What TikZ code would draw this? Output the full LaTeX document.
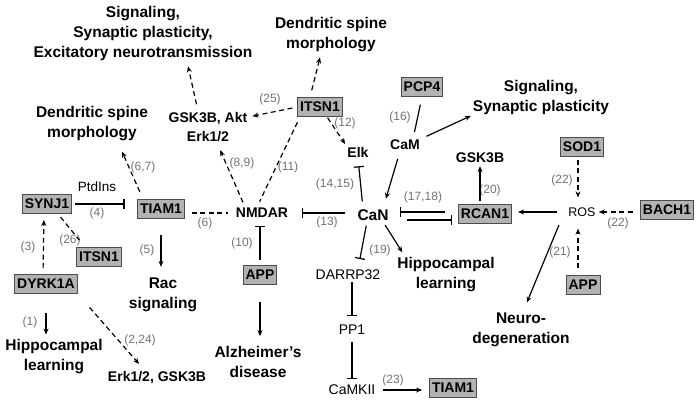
\documentclass[tikz,border=0pt]{standalone}
\usepackage{fontspec}
\setmainfont{Liberation Sans}
\usetikzlibrary{arrows.meta}
\begin{document}
\begin{tikzpicture}[x=1pt,y=-1pt,
  big/.style={font=\fontsize{15.5}{20}\selectfont\bfseries, align=center, inner sep=1pt},
  mid/.style={font=\fontsize{14}{19}\selectfont\bfseries, align=center, inner sep=1pt},
  reg/.style={font=\fontsize{14}{16}\selectfont, inner sep=1pt},
  gene/.style={draw=black!70, fill=gray!60, line width=0.8pt, font=\fontsize{14}{16}\selectfont\bfseries, inner xsep=2.5pt, inner ysep=0pt, minimum height=19pt},
  num/.style={font=\fontsize{12}{12}\selectfont, text=black!55, inner sep=0.5pt},
  con/.style={line width=1.2pt},
  act/.style={con, -{Stealth[length=6pt,width=5pt]}},
  dact/.style={act, dash pattern=on 5pt off 3.5pt},
  dline/.style={con, dash pattern=on 5pt off 3.5pt},
  inh/.style={con, -{Bar[width=10pt,line width=1.2pt]}},
]
\path[use as bounding box, fill=white] (0,0) rectangle (698,400);

% nodes
\node[big] (sig1) at (143,33) {Signaling,\\Synaptic plasticity,\\Excitatory neurotransmission};
\node[big] (dsm1) at (92,124) {Dendritic spine\\morphology};
\node[mid] (gsk) at (208,127) {GSK3B, Akt\\Erk1/2};
\node[big] (dsm2) at (331,35) {Dendritic spine\\morphology};
\node[gene] (itsnA) at (320,107) {ITSN1};
\node[mid] (elk) at (358,152) {Elk};
\node[gene] (pcp4) at (422,87) {PCP4};
\node[mid] (cam) at (405,145) {CaM};
\node[big] (sig2) at (541,97) {Signaling,\\Synaptic plasticity};
\node[mid] (gskB) at (480,158) {GSK3B};
\node[gene] (sod1) at (582,147) {SOD1};
\node[reg, font=\fontsize{13.5}{15}\selectfont] (ptd) at (97,187) {PtdIns};
\node[gene] (synj1) at (47,204) {SYNJ1};
\node[gene] (tiamA) at (161,209) {TIAM1};
\node[mid] (nmdar) at (262,213) {NMDAR};
\node[gene] (itsnB) at (99,257) {ITSN1};
\node[big] (rac) at (163,295) {Rac\\signaling};
\node[gene] (dyrk) at (46,284) {DYRK1A};
\node[big] (hip1) at (54,357) {Hippocampal\\learning};
\node[mid] (erk) at (157,378) {Erk1/2, GSK3B};
\node[big] (can) at (373,215) {CaN};
\node[gene] (rcan1) at (485,214) {RCAN1};
\node[gene] (appA) at (260,275) {APP};
\node[big] (alz) at (258,362) {Alzheimer's\\disease};
\node[reg] (darpp) at (348,275) {DARRP32};
\node[big] (hip2) at (446,275) {Hippocampal\\learning};
\node[reg] (pp1) at (352,330) {PP1};
\node[reg] (camkii) at (352,390) {CaMKII};
\node[gene] (tiamB) at (453,388) {TIAM1};
\node[reg, font=\fontsize{12.5}{14}\selectfont] (ros) at (582,212) {ROS};
\node[gene] (bach1) at (667,210) {BACH1};
\node[gene] (appB) at (583,285) {APP};
\node[big] (neuro) at (521,330) {Neuro-\\degeneration};

% reference labels
\node[num] (n67) at (143,167) {(6,7)};
\node[num] (n89) at (242,163) {(8,9)};
\node[num] (n25) at (270,99) {(25)};
\node[num] (n12) at (345,123) {(12)};
\node[num] (n11) at (288,167) {(11)};
\node[num] (n16) at (400,117) {(16)};
\node[num] (n1415) at (335,184) {(14,15)};
\node[num] (n1718) at (423,197) {(17,18)};
\node[num] (n22a) at (562,180) {(22)};
\node[num] (n20) at (490,190) {(20)};
\node[num] (n4) at (97,213) {(4)};
\node[num] (n6) at (205,223) {(6)};
\node[num] (n3) at (28,247) {(3)};
\node[num] (n26) at (70,240) {(26)};
\node[num] (n5) at (147,250) {(5)};
\node[num] (n1) at (30,322) {(1)};
\node[num] (n224) at (140,340) {(2,24)};
\node[num] (n10) at (242,243) {(10)};
\node[num] (n13) at (327,222) {(13)};
\node[num] (n19) at (380,250) {(19)};
\node[num] (n23) at (393,380) {(23)};
\node[num] (n22b) at (618,223) {(22)};
\node[num] (n21) at (560,252) {(21)};

% connectors
\draw[dact, shorten <=7pt, shorten >=5pt] ([xshift=-10pt]gsk.north) -- ([xshift=44pt]sig1.south);
\draw[dact, shorten <=8pt, shorten >=10pt] ([xshift=-18pt]tiamA.north) -- ([xshift=26pt]dsm1.south);
\draw[dact, shorten <=5pt, shorten >=8pt] ([xshift=-17pt]nmdar.north) -- ([xshift=9pt]gsk.south);
\draw[dact, shorten <=5pt, shorten >=4pt] (itsnA.west) -- ([yshift=10pt]gsk.east);
\draw[dact, shorten <=7pt, shorten >=4pt] ([xshift=-10pt]itsnA.north) -- ([xshift=-10pt]dsm2.south);
\draw[dact, shorten <=1pt, shorten >=2pt] ([xshift=7pt]itsnA.south) -- (elk.north west);
\draw[dline, shorten <=6pt, shorten >=6pt] ([xshift=-20pt]itsnA.south) -- ([xshift=-5pt]nmdar.north);
\draw[con, shorten <=8pt, shorten >=7pt] (pcp4.south) -- ([xshift=8pt]cam.north);
\draw[act, shorten <=6pt, shorten >=1pt] (cam.north east) -- (sig2.south west);
\draw[act, shorten <=8pt, shorten >=10pt] ([xshift=-5pt]cam.south) -- ([xshift=10pt]can.north);
\draw[inh, shorten <=7pt, shorten >=8pt] ([xshift=-10pt]can.north) -- (elk.south);
\draw[act, shorten <=3pt, shorten >=2pt] ([xshift=-5pt]rcan1.north) -- (gskB.south);
\draw[dact, shorten <=3pt, shorten >=9pt] ([xshift=-4pt]sod1.south) -- ([xshift=-4pt]ros.north);
\draw[inh, shorten <=3pt, shorten >=12.5pt] (synj1.east) -- (synj1.east -| tiamA.west);
\draw[dline, shorten <=7pt, shorten >=7pt] ([yshift=-4pt]tiamA.east) -- ([yshift=-4pt]tiamA.east -| nmdar.west);
\draw[dact, shorten <=6pt, shorten >=6pt] ([xshift=-3pt]dyrk.north) -- ([xshift=-3pt]synj1.south);
\draw[dline, shorten <=4pt, shorten >=9pt] ([xshift=11pt]synj1.south) -- ([xshift=-14pt]itsnB.north);
\draw[act, shorten <=16pt, shorten >=10pt] (tiamA.south) -- (tiamA.south |- rac.north);
\draw[act, shorten <=19pt, shorten >=4pt] (dyrk.south) -- (dyrk.south |- hip1.north);
\draw[dact, shorten <=18pt, shorten >=9pt] (dyrk.south east) -- ([xshift=-12pt]erk.north);
\draw[inh, shorten <=11pt, shorten >=13pt] ([yshift=2pt]can.west) -- ([yshift=2pt]can.west -| nmdar.east);
\draw[inh, shorten <=13pt, shorten >=10pt] ([yshift=2pt]rcan1.west) -- ([yshift=2pt]rcan1.west -| can.east);
\draw[inh, shorten <=17pt, shorten >=6pt] ([yshift=-5pt]can.east) -- ([yshift=-5pt]can.east -| rcan1.west);
\draw[inh, shorten <=5pt, shorten >=7pt] (appA.north) -- (appA.north |- nmdar.south);
\draw[act, shorten <=17pt, shorten >=9pt] (appA.south) -- (appA.south |- alz.north);
\draw[inh, shorten <=4pt, shorten >=10pt] ([xshift=-6pt]can.south) -- ([xshift=10pt]darpp.north);
\draw[act, shorten <=4pt, shorten >=5pt] ([xshift=10pt]can.south) -- ([xshift=-41pt]hip2.north);
\draw[inh, shorten <=1pt, shorten >=8pt] ([xshift=4pt]darpp.south) -- ([xshift=4pt]darpp.south |- pp1.north);
\draw[inh, shorten <=6pt, shorten >=5pt] (pp1.south) -- (camkii.north);
\draw[act, shorten <=6pt, shorten >=7pt] (camkii.east) -- (camkii.east -| tiamB.west);
\draw[act, shorten <=10pt, shorten >=6pt] (ros.west) -- (ros.west -| rcan1.east);
\draw[dact, shorten <=7pt, shorten >=2pt] ([yshift=-2pt]bach1.west) -- ([yshift=-2pt]bach1.west -| ros.east);
\draw[dact, shorten <=7pt, shorten >=11pt] ([xshift=-5pt]appB.north) -- ([xshift=-4pt]ros.south);
\draw[act, shorten <=8pt, shorten >=10pt] ([xshift=-20pt]ros.south) -- ([xshift=2pt]neuro.north);
\end{tikzpicture}
\end{document}
